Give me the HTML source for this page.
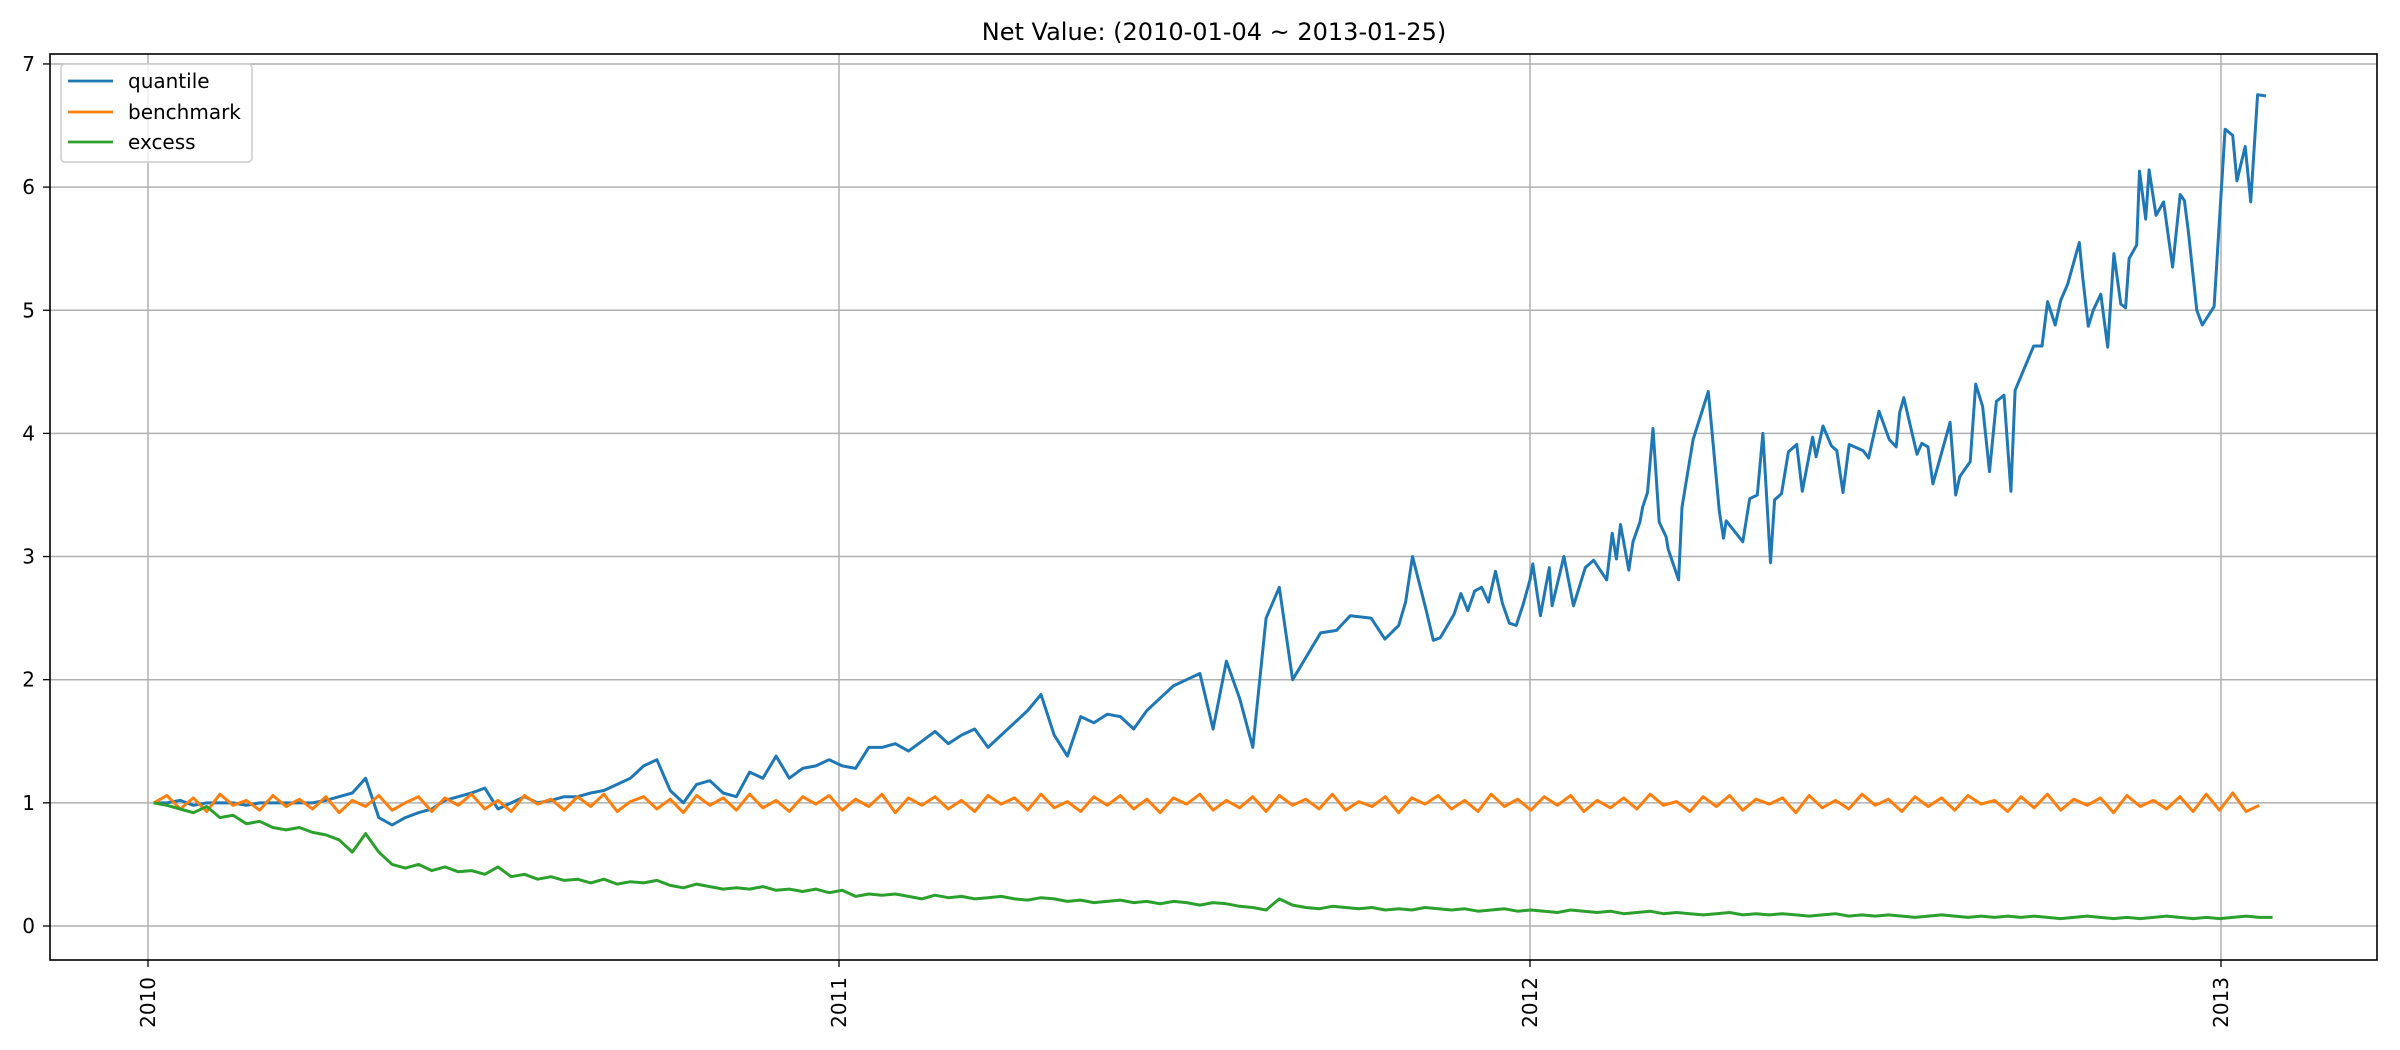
<!DOCTYPE html>
<html><head><meta charset="utf-8"><style>
html,body{margin:0;padding:0;background:#fff;}
svg{display:block;font-family:"DejaVu Sans","Liberation Sans",sans-serif;}
</style></head><body>
<svg id="chart" width="2400" height="1050" xmlns="http://www.w3.org/2000/svg">
<rect x="0" y="0" width="2400" height="1050" fill="#fff"/>
<text x="1214" y="40" font-size="24" text-anchor="middle" fill="#000">Net Value: (2010-01-04 ~ 2013-01-25)</text>
<g id="grid"></g>
<g id="series"></g>
<rect x="50" y="54" width="2327" height="906" fill="none" stroke="#000" stroke-width="1.6"/>
<g id="ticks"></g>
<g id="legend">
<rect x="61" y="64" width="191" height="98" rx="4" fill="#fff" fill-opacity="0.8" stroke="#ccc" stroke-width="1.5"/>
<line x1="68" y1="81" x2="113" y2="81" stroke="#1f77b4" stroke-width="2.8"/>
<text x="128" y="88" font-size="20">quantile</text>
<line x1="68" y1="112" x2="113" y2="112" stroke="#ff7f0e" stroke-width="2.8"/>
<text x="128" y="119" font-size="20">benchmark</text>
<line x1="68" y1="142" x2="113" y2="142" stroke="#2ca02c" stroke-width="2.8"/>
<text x="128" y="149" font-size="20">excess</text>
</g>
</svg>
<script>
const yTicks = [0,1,2,3,4,5,6,7];
const xTicks = [2010,2011,2012,2013];
const qEarlyWeeks = [0,1,2,3,4,5,6,7,8,9,10,11,12,13,14,15,16,17,18,19,20,21,22,23,24,25,26,27,28,29,30,31,32,33,34,35,36,37,38,39,40,41,42,43,44,45,46,47,48,49,50,51,52,53,54,55,56,57,58,59,60,61,62,63,64,65,66,67,68,69,70,71,72,73,74,75,76,77,78,79,80,81,82,83,84,85,86];
const qEarlyVals = [1.0,1.0,1.02,0.98,1.0,1.0,1.0,0.98,1.0,1.0,1.0,1.0,1.0,1.02,1.05,1.08,1.2,0.88,0.82,0.88,0.92,0.95,1.02,1.05,1.08,1.12,0.95,1.0,1.05,1.0,1.02,1.05,1.05,1.08,1.1,1.15,1.2,1.3,1.35,1.1,1.0,1.15,1.18,1.08,1.05,1.25,1.2,1.38,1.2,1.28,1.3,1.35,1.3,1.28,1.45,1.45,1.48,1.42,1.5,1.58,1.48,1.55,1.6,1.45,1.55,1.65,1.75,1.88,1.55,1.38,1.7,1.65,1.72,1.7,1.6,1.75,1.85,1.95,2.0,2.05,1.6,2.15,1.85,1.45,2.5,2.75,2.0];
const qLateYears = [2011.697,2011.72,2011.74,2011.77,2011.79,2011.81,2011.82,2011.83,2011.85,2011.86,2011.87,2011.89,2011.90,2011.91,2011.92,2011.93,2011.94,2011.95,2011.96,2011.97,2011.98,2011.99,2012.0,2012.004,2012.015,2012.028,2012.032,2012.049,2012.063,2012.08,2012.092,2012.111,2012.119,2012.125,2012.131,2012.143,2012.149,2012.159,2012.163,2012.17,2012.178,2012.187,2012.197,2012.2,2012.215,2012.22,2012.236,2012.258,2012.274,2012.28,2012.284,2012.308,2012.318,2012.329,2012.337,2012.348,2012.354,2012.364,2012.374,2012.386,2012.394,2012.409,2012.414,2012.424,2012.436,2012.444,2012.453,2012.462,2012.482,2012.49,2012.505,2012.52,2012.53,2012.535,2012.541,2012.56,2012.567,2012.576,2012.583,2012.608,2012.616,2012.622,2012.637,2012.645,2012.655,2012.665,2012.675,2012.686,2012.696,2012.702,2012.729,2012.741,2012.749,2012.76,2012.768,2012.778,2012.795,2012.8,2012.808,2012.815,2012.826,2012.836,2012.845,2012.855,2012.862,2012.867,2012.878,2012.882,2012.891,2012.896,2012.906,2012.917,2012.93,2012.941,2012.947,2012.953,2012.965,2012.973,2012.99,2013.006,2013.017,2013.023,2013.035,2013.043,2013.053,2013.065];
const qLateVals = [2.38,2.4,2.52,2.5,2.33,2.44,2.63,3.0,2.56,2.32,2.34,2.53,2.7,2.56,2.72,2.75,2.63,2.88,2.62,2.46,2.44,2.61,2.81,2.94,2.52,2.91,2.6,3.0,2.6,2.91,2.97,2.81,3.19,2.98,3.26,2.89,3.12,3.28,3.4,3.52,4.04,3.28,3.16,3.06,2.81,3.4,3.95,4.34,3.37,3.15,3.29,3.12,3.47,3.5,4.0,2.95,3.46,3.51,3.85,3.91,3.53,3.97,3.81,4.06,3.9,3.86,3.52,3.91,3.86,3.8,4.18,3.95,3.89,4.17,4.29,3.83,3.92,3.89,3.59,4.09,3.5,3.65,3.77,4.4,4.22,3.69,4.26,4.31,3.53,4.35,4.71,4.71,5.07,4.88,5.08,5.21,5.55,5.26,4.87,5.0,5.13,4.7,5.46,5.05,5.02,5.42,5.53,6.13,5.74,6.14,5.77,5.88,5.35,5.94,5.89,5.63,5.0,4.88,5.03,6.47,6.42,6.05,6.33,5.88,6.75,6.74];
const benchVals = [1.0,1.06,0.95,1.04,0.93,1.07,0.98,1.02,0.94,1.06,0.97,1.03,0.95,1.05,0.92,1.02,0.97,1.06,0.94,1.0,1.05,0.93,1.04,0.98,1.07,0.95,1.02,0.93,1.06,0.99,1.03,0.94,1.05,0.97,1.07,0.93,1.01,1.05,0.95,1.03,0.92,1.06,0.98,1.04,0.94,1.07,0.96,1.02,0.93,1.05,0.99,1.06,0.94,1.03,0.97,1.07,0.92,1.04,0.98,1.05,0.95,1.02,0.93,1.06,0.99,1.04,0.94,1.07,0.96,1.01,0.93,1.05,0.98,1.06,0.95,1.03,0.92,1.04,0.99,1.07,0.94,1.02,0.96,1.05,0.93,1.06,0.98,1.03,0.95,1.07,0.94,1.01,0.97,1.05,0.92,1.04,0.99,1.06,0.95,1.02,0.93,1.07,0.97,1.03,0.94,1.05,0.98,1.06,0.93,1.02,0.96,1.04,0.95,1.07,0.98,1.01,0.93,1.05,0.97,1.06,0.94,1.03,0.99,1.04,0.92,1.06,0.96,1.02,0.95,1.07,0.98,1.03,0.93,1.05,0.97,1.04,0.94,1.06,0.99,1.02,0.93,1.05,0.96,1.07,0.94,1.03,0.98,1.04,0.92,1.06,0.97,1.02,0.95,1.05,0.93,1.07,0.94,1.08,0.93,0.98];
const excessVals = [1.0,0.98,0.95,0.92,0.97,0.88,0.9,0.83,0.85,0.8,0.78,0.8,0.76,0.74,0.7,0.6,0.75,0.6,0.5,0.47,0.5,0.45,0.48,0.44,0.45,0.42,0.48,0.4,0.42,0.38,0.4,0.37,0.38,0.35,0.38,0.34,0.36,0.35,0.37,0.33,0.31,0.34,0.32,0.3,0.31,0.3,0.32,0.29,0.3,0.28,0.3,0.27,0.29,0.24,0.26,0.25,0.26,0.24,0.22,0.25,0.23,0.24,0.22,0.23,0.24,0.22,0.21,0.23,0.22,0.2,0.21,0.19,0.2,0.21,0.19,0.2,0.18,0.2,0.19,0.17,0.19,0.18,0.16,0.15,0.13,0.22,0.17,0.15,0.14,0.16,0.15,0.14,0.15,0.13,0.14,0.13,0.15,0.14,0.13,0.14,0.12,0.13,0.14,0.12,0.13,0.12,0.11,0.13,0.12,0.11,0.12,0.1,0.11,0.12,0.1,0.11,0.1,0.09,0.1,0.11,0.09,0.1,0.09,0.1,0.09,0.08,0.09,0.1,0.08,0.09,0.08,0.09,0.08,0.07,0.08,0.09,0.08,0.07,0.08,0.07,0.08,0.07,0.08,0.07,0.06,0.07,0.08,0.07,0.06,0.07,0.06,0.07,0.08,0.07,0.06,0.07,0.06,0.07,0.08,0.07,0.07];

const NS = "http://www.w3.org/2000/svg";
const X0 = 50, X1 = 2377, Y0 = 54, Y1 = 960;
function xScale(yr){ return 148 + (yr - 2010) * 691; }
function yScale(v){ return 926 - v * 123.15; }
const startYear = 2010 + 3/365;
function weekYear(w){ return startYear + w * 7 / 365.25; }

const grid = document.getElementById('grid');
const ticks = document.getElementById('ticks');
yTicks.forEach(v => {
  const y = yScale(v);
  const l = document.createElementNS(NS,'line');
  l.setAttribute('x1',X0); l.setAttribute('x2',X1); l.setAttribute('y1',y); l.setAttribute('y2',y);
  l.setAttribute('stroke','#b0b0b0'); l.setAttribute('stroke-width','1.5');
  
  
  grid.appendChild(l);
  const t = document.createElementNS(NS,'line');
  t.setAttribute('x1',X0-7); t.setAttribute('x2',X0); t.setAttribute('y1',y); t.setAttribute('y2',y);
  t.setAttribute('stroke','#000'); t.setAttribute('stroke-width','1.3');
  
  
  ticks.appendChild(t);
  const tx = document.createElementNS(NS,'text');
  tx.setAttribute('x',X0-15); tx.setAttribute('y',y+7); tx.setAttribute('font-size','20'); tx.setAttribute('text-anchor','end');
  tx.textContent = v;
  
  
  ticks.appendChild(tx);
});
xTicks.forEach(yr => {
  const x = xScale(yr);
  const l = document.createElementNS(NS,'line');
  l.setAttribute('x1',x); l.setAttribute('x2',x); l.setAttribute('y1',Y0); l.setAttribute('y2',Y1);
  l.setAttribute('stroke','#b0b0b0'); l.setAttribute('stroke-width','1.5');
  
  
  grid.appendChild(l);
  const t = document.createElementNS(NS,'line');
  t.setAttribute('x1',x); t.setAttribute('x2',x); t.setAttribute('y1',Y1); t.setAttribute('y2',Y1+7);
  t.setAttribute('stroke','#000'); t.setAttribute('stroke-width','1.3');
  
  
  ticks.appendChild(t);
  const tx = document.createElementNS(NS,'text');
  tx.setAttribute('x',0); tx.setAttribute('y',0); tx.setAttribute('font-size','20'); tx.setAttribute('text-anchor','end');
  tx.setAttribute('transform','translate('+(x+7)+','+(Y1+17)+') rotate(-90)');
  tx.textContent = yr;
  
  
  ticks.appendChild(tx);
});

const series = document.getElementById('series');
function drawLine(pts, color, name){
  const p = document.createElementNS(NS,'polyline');
  p.setAttribute('points', pts.map(q => q[0].toFixed(1)+','+q[1].toFixed(1)).join(' '));
  p.setAttribute('fill','none'); p.setAttribute('stroke',color); p.setAttribute('stroke-width','3');
  p.setAttribute('stroke-linejoin','round');
  
  
  series.appendChild(p);
}
const benchPts = benchVals.map((v,i) => [xScale(weekYear(i)), yScale(v)]);
const excessPts = excessVals.map((v,i) => [xScale(weekYear(i)), yScale(v)]);
const qPts = qEarlyWeeks.map((w,i) => [xScale(weekYear(w)), yScale(qEarlyVals[i])])
  .concat(qLateYears.map((yr,i) => [xScale(yr), yScale(qLateVals[i])]));
drawLine(qPts, '#1f77b4', 'quantile-line');
drawLine(benchPts, '#ff7f0e', 'benchmark-line');
drawLine(excessPts, '#2ca02c', 'excess-line');
</script>
</body></html>
